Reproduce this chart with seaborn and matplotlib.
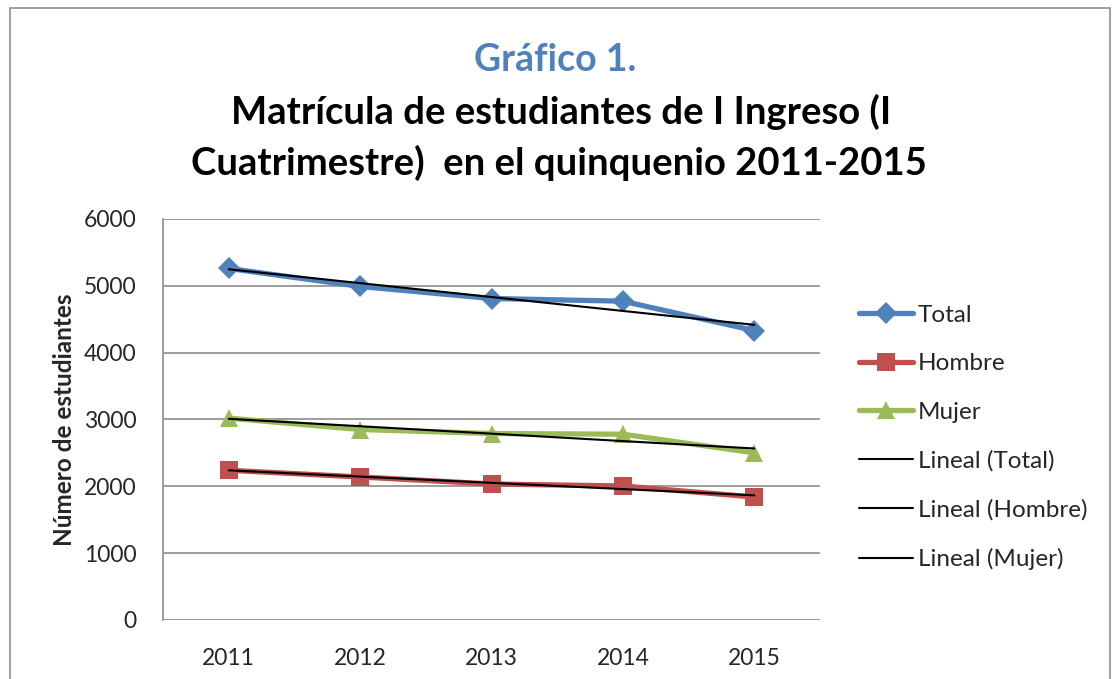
import numpy as np
import pandas as pd
import matplotlib.pyplot as plt
import seaborn as sns
from matplotlib.patches import Rectangle

years = [2011, 2012, 2013, 2014, 2015]
total = [5260, 4990, 4810, 4770, 4330]
hombre = [2240, 2140, 2035, 2005, 1840]
mujer = [3020, 2850, 2790, 2780, 2500]

series_names = ["Total", "Hombre", "Mujer"]
series_values = [total, hombre, mujer]
colors = ["#4F81BD", "#C0504D", "#9BBB59"]
markers = ["D", "s", "^"]
msizes = [11, 13, 13]

sns.set_style("white")
plt.rcParams['font.family'] = ['Lato', 'DejaVu Sans']

fig = plt.figure(figsize=(11.18, 6.79), dpi=100)
ax = fig.add_axes([0.1458, 0.0869, 0.5877, 0.5906])

for name, vals, c, m, ms in zip(series_names, series_values, colors, markers, msizes):
    df = pd.DataFrame({"year": years, "value": vals})
    sns.lineplot(data=df, x="year", y="value", ax=ax, color=c, lw=3.8,
                 marker=m, markersize=ms, markeredgewidth=0, label=name,
                 solid_capstyle="round")

# lineas de tendencia
for name, vals in zip(series_names, series_values):
    df = pd.DataFrame({"year": years, "value": vals})
    sns.regplot(data=df, x="year", y="value", ax=ax, scatter=False, ci=None,
                truncate=True, line_kws={"color": "black", "lw": 1.5})
    ax.lines[-1].set_label("Lineal (" + name + ")")

ax.set_xlim(2010.5, 2015.5)
ax.set_ylim(0, 6000)
ax.set_xticks(years)
ax.set_xticklabels([str(y) for y in years])
ax.set_yticks(range(0, 6001, 1000))
ax.tick_params(axis="y", labelsize=16.5, length=0, pad=19)
ax.tick_params(axis="x", labelsize=16.5, length=0, pad=20)
ax.yaxis.grid(True, color="#8c8c8c", lw=1.2)
ax.set_axisbelow(True)
for s in ["top", "right", "bottom"]:
    ax.spines[s].set_visible(False)
ax.spines["left"].set_color("#8c8c8c")
ax.spines["left"].set_linewidth(1.2)
ax.set_xlabel("")
ax.set_ylabel("Número de estudiantes", fontsize=17.5, fontweight="bold", labelpad=6)

handles, labels = ax.get_legend_handles_labels()
ax.legend(handles, labels, loc="center left", bbox_to_anchor=(1.045, 0.455),
          frameon=False, fontsize=17.5, labelspacing=1.13, handlelength=2.2,
          handletextpad=0.2, borderaxespad=0)

fig.text(0.497, 0.912, "Gráfico 1.", ha="center", va="center", fontsize=27,
         fontweight="bold", color="#4F81BD")
fig.text(0.502, 0.835, "Matrícula de estudiantes de I Ingreso (I", ha="center",
         va="center", fontsize=27.5, fontweight="bold", color="black")
fig.text(0.5, 0.760, "Cuatrimestre)  en el quinquenio 2011-2015", ha="center",
         va="center", fontsize=27.5, fontweight="bold", color="black")

fig.patches.append(Rectangle((0.009, -0.01), 0.984, 0.998, transform=fig.transFigure,
                             fill=False, edgecolor="#8c8c8c", lw=1.2))

fig.savefig("out.png", dpi=100)
